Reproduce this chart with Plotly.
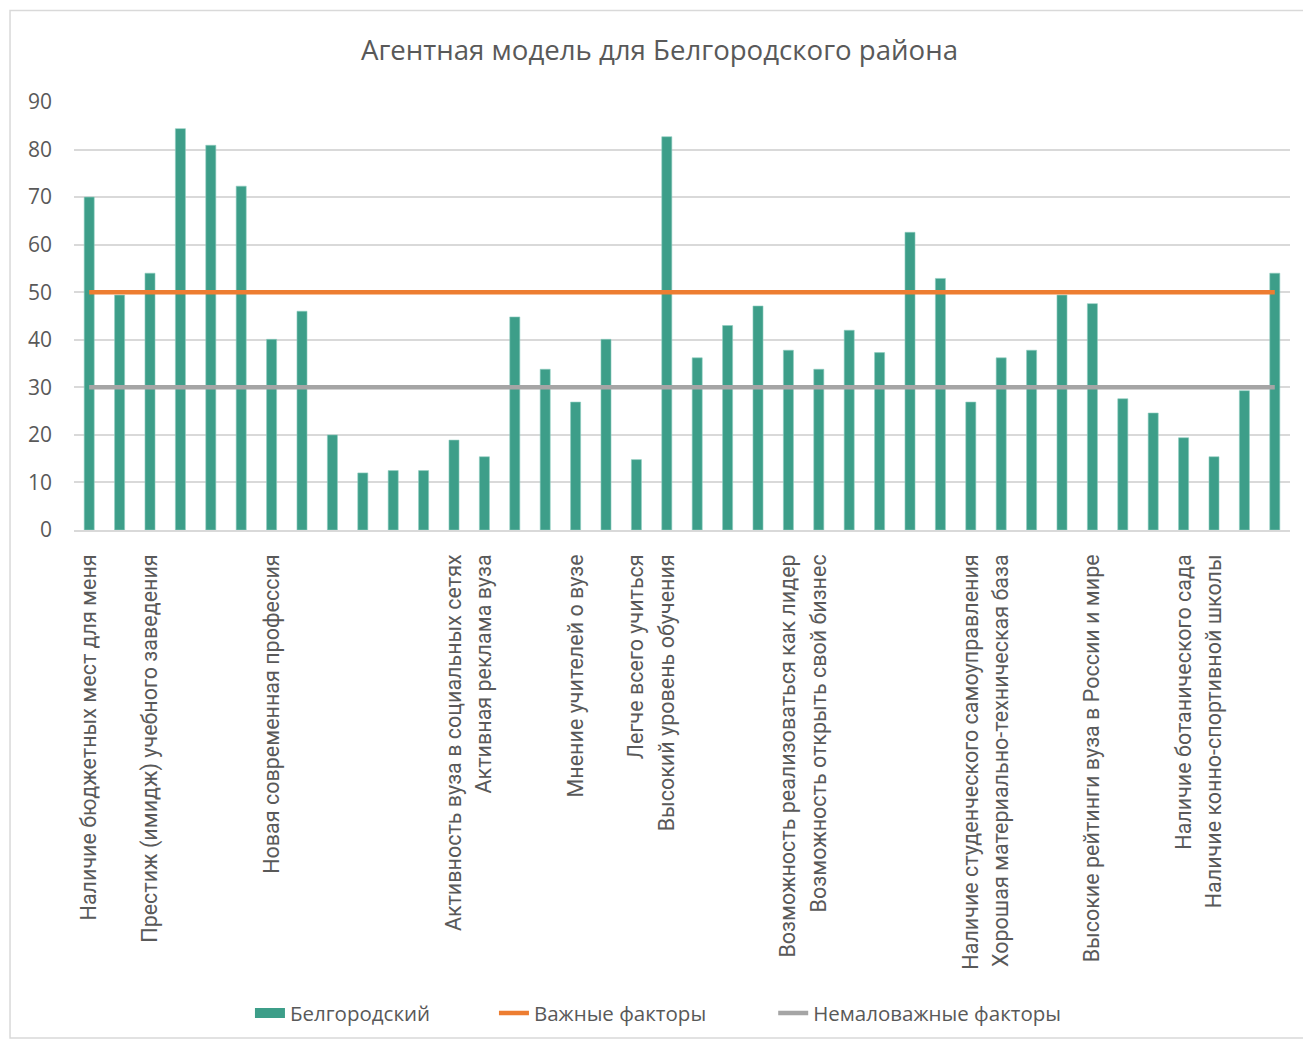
import plotly.graph_objects as go

# factor labels as shown on the axis (blank where Excel skipped the label)
labels = [
    'Наличие бюджетных мест для меня', '', 'Престиж (имидж) учебного заведения', '', '', '',
    'Новая современная профессия', '', '', '', '', '',
    'Активность вуза в социальных сетях', 'Активная реклама вуза', '', '',
    'Мнение учителей о вузе', '', 'Легче всего учиться', 'Высокий уровень обучения',
    '', '', '', 'Возможность реализоваться как лидер', 'Возможность открыть свой бизнес',
    '', '', '', '', 'Наличие студенческого самоуправления',
    'Хорошая материально-техническая база', '', '', 'Высокие рейтинги вуза в России и мире',
    '', '', 'Наличие ботанического сада', 'Наличие конно-спортивной школы', '', '',
]
factor_no = list(range(1, 41))

belgorod = [70, 49.4, 54, 84.4, 80.9, 72.3, 40.1, 46, 20, 12,
            12.5, 12.5, 18.9, 15.4, 44.8, 33.8, 26.9, 40.1, 14.8, 82.7,
            36.2, 43, 47.1, 37.8, 33.8, 42, 37.3, 62.6, 52.9, 26.9,
            36.2, 37.8, 49.4, 47.6, 27.6, 24.6, 19.4, 15.4, 29.3, 54]

important = [50, 50, 50, 50, 50, 50, 50, 50, 50, 50,
             50, 50, 50, 50, 50, 50, 50, 50, 50, 50,
             50, 50, 50, 50, 50, 50, 50, 50, 50, 50,
             50, 50, 50, 50, 50, 50, 50, 50, 50, 50]
notable = [30, 30, 30, 30, 30, 30, 30, 30, 30, 30,
           30, 30, 30, 30, 30, 30, 30, 30, 30, 30,
           30, 30, 30, 30, 30, 30, 30, 30, 30, 30,
           30, 30, 30, 30, 30, 30, 30, 30, 30, 30]

tick_vals = [n for n, lab in zip(factor_no, labels) if lab]
tick_text = [lab for lab in labels if lab]

grey_text = '#595959'
teal = '#3D9E89'
legend_font = dict(family='Open Sans', size=20.5, color=grey_text)

fig = go.Figure()
fig.add_trace(go.Bar(
    x=factor_no, y=belgorod, name='Белгородский', showlegend=False,
    marker=dict(color=teal, line=dict(color='#8FCDBF', width=0.6)),
))
# wide swatch for the bar series in the legend, like Excel draws it
fig.add_trace(go.Scatter(
    x=[None], y=[None], name='Белгородский', mode='lines',
    line=dict(color=teal, width=14),
))
fig.add_trace(go.Scatter(
    x=factor_no, y=important, name='Важные факторы', mode='lines',
    line=dict(color='#ED7D31', width=4.5),
))
fig.add_trace(go.Scatter(
    x=factor_no, y=notable, name='Немаловажные факторы', mode='lines',
    line=dict(color='#A5A5A5', width=4.5), legend='legend2',
))

fig.update_layout(
    width=1303,
    height=1035,
    paper_bgcolor='white',
    plot_bgcolor='white',
    margin=dict(l=66, r=21, t=94, b=512),
    bargap=0.67,
    font=dict(family='Open Sans', size=18, color=grey_text),
    title=dict(
        text='Агентная модель для Белгородского района',
        x=0.5, xanchor='center', y=0.959, yanchor='middle',
        font=dict(family='Open Sans', size=27.6, color=grey_text),
    ),
    legend=dict(
        orientation='h', x=0.1447, xanchor='left', y=-1.124, yanchor='middle',
        font=legend_font, traceorder='normal',
        entrywidth=199, entrywidthmode='pixels',
    ),
    legend2=dict(
        orientation='h', x=0.575, xanchor='left', y=-1.124, yanchor='middle',
        font=legend_font,
    ),
    showlegend=True,
    shapes=[dict(
        type='rect', xref='paper', yref='paper',
        x0=-0.0526, x1=1.0123, y0=-1.187, y1=1.2137,
        line=dict(color='#D9D9D9', width=1.5), layer='below',
    )],
)

fig.update_xaxes(
    range=[0.5, 40.5],
    tickmode='array', tickvals=tick_vals, ticktext=tick_text,
    tickangle=-90,
    tickfont=dict(family='Roboto', size=21.5, color=grey_text),
    ticklabelstandoff=14,
    showgrid=False, zeroline=False,
    showline=True, linecolor='#D9D9D9', linewidth=1.5,
    ticks='',
)
fig.update_yaxes(
    range=[0, 90], dtick=10,
    showgrid=True, gridcolor='#D9D9D9', gridwidth=1.5,
    zeroline=False, showline=False,
    tickfont=dict(family='Open Sans', size=21, color=grey_text),
    ticklabelstandoff=21,
)

fig.write_html('out.html')
